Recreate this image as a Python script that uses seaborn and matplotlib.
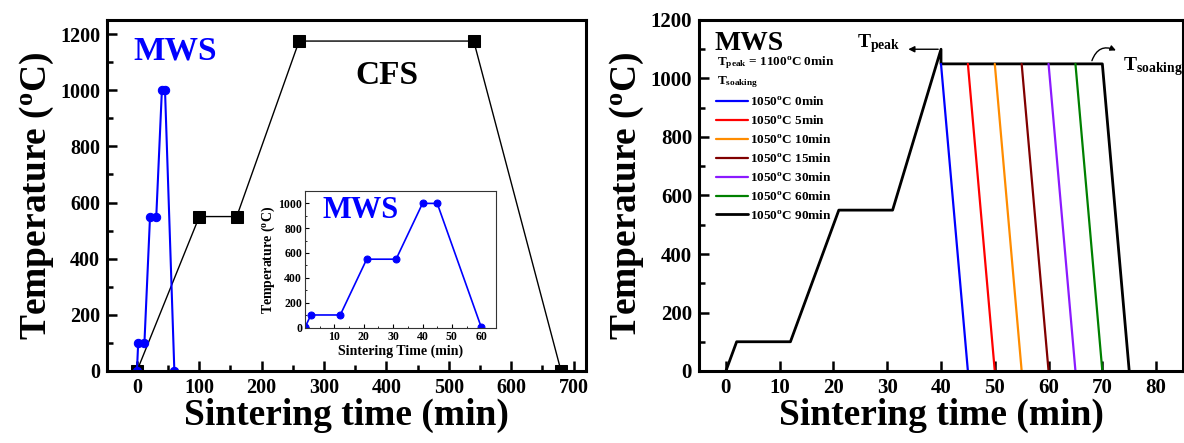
import numpy as np
import pandas as pd
import matplotlib
matplotlib.use("Agg")
import matplotlib.pyplot as plt
from matplotlib.ticker import MultipleLocator, FixedLocator
import seaborn as sns

# ---------------- data ----------------
mws_time = [0, 2, 12, 21, 31, 40, 45, 60]
mws_temp = [0, 100, 100, 550, 550, 1000, 1000, 0]
cfs_time = [0, 100, 160, 260, 540, 680]
cfs_temp = [0, 550, 550, 1175, 1175, 0]

base_time = [0, 2, 12, 21, 31, 40, 40]
base_temp = [0, 100, 100, 550, 550, 1100, 1050]
soak_temp = 1050
soak_start = [40, 45, 50, 55, 60, 65, 70]
soak_end = [45, 50, 55, 60, 65, 70, 75]
soak_labels = ["1050$^{o}$C 0min", "1050$^{o}$C 5min", "1050$^{o}$C 10min",
               "1050$^{o}$C 15min", "1050$^{o}$C 30min", "1050$^{o}$C 60min",
               "1050$^{o}$C 90min"]
soak_colors = ["#0000FF", "#FF0000", "#FF8C00", "#800000", "#8B1AFF", "#008000", "#000000"]

left_xticks = [0, 100, 200, 300, 400, 500, 600, 700]
yticks = [0, 200, 400, 600, 800, 1000, 1200]
right_xticks = [0, 10, 20, 30, 40, 50, 60, 70, 80]
inset_xticks = [10, 20, 30, 40, 50, 60]
inset_yticks = [0, 200, 400, 600, 800, 1000]

# ---------------- style ----------------
sns.set_style("white")
plt.rcParams.update({
    "font.family": ["Liberation Serif", "DejaVu Serif"],
    "font.weight": "bold",
    "axes.labelweight": "bold",
    "mathtext.fontset": "custom",
    "mathtext.rm": "Liberation Serif:bold",
    "mathtext.it": "Liberation Serif:bold",
    "mathtext.bf": "Liberation Serif:bold",
    "mathtext.default": "rm",
    "axes.edgecolor": "black",
    "axes.linewidth": 2.2,
    "text.color": "black",
    "axes.labelcolor": "black",
    "xtick.direction": "in",
    "ytick.direction": "in",
    "xtick.color": "black",
    "ytick.color": "black",
    "xtick.labelcolor": "black",
    "ytick.labelcolor": "black",
})

fig = plt.figure(figsize=(11.84, 4.43), dpi=100)
W, H = 1184, 443

def frame(l, r, t, b):
    return [l / W, (H - b) / H, (r - l) / W, (b - t) / H]

axL = fig.add_axes(frame(107, 586, 20, 371))
axR = fig.add_axes(frame(699, 1183, 20, 371))
axI = fig.add_axes(frame(305, 496, 191, 328))

def style_ticks(ax, size=14.5, major=7, minor=4, width=1.8):
    ax.tick_params(which="major", length=major, width=width, labelsize=size,
                   bottom=True, left=True, top=False, right=False, pad=5)
    ax.tick_params(which="minor", length=minor, width=width,
                   bottom=True, left=True, top=False, right=False)
    for lab in ax.get_xticklabels() + ax.get_yticklabels():
        lab.set_fontweight("bold")

# ---------------- left panel ----------------
sns.lineplot(x=cfs_time, y=cfs_temp, ax=axL, color="black", lw=1.0, marker="s",
             markersize=9, markeredgecolor="black", sort=False, estimator=None)
sns.lineplot(x=mws_time, y=mws_temp, ax=axL, color="#0000FF", lw=1.5, marker="o",
             markersize=6, markeredgecolor="#0000FF", sort=False, estimator=None)
axL.set_xlim(-48, 720)
axL.set_ylim(0, 1250)
axL.xaxis.set_major_locator(FixedLocator(left_xticks))
axL.xaxis.set_minor_locator(MultipleLocator(50))
axL.yaxis.set_major_locator(FixedLocator(yticks))
axL.yaxis.set_minor_locator(MultipleLocator(100))
axL.set_xlabel("Sintering time (min)", fontsize=27, labelpad=0)
axL.set_ylabel("Temperature ($^{o}$C)", fontsize=27, labelpad=3)
style_ticks(axL)
axL.text(-6, 1108, "MWS", color="#0000FF", fontsize=24, fontweight="bold")
axL.text(351, 1023, "CFS", color="black", fontsize=24, fontweight="bold")

# ---------------- inset ----------------
sns.lineplot(x=mws_time, y=mws_temp, ax=axI, color="#0000FF", lw=1.2, marker="o",
             markersize=5, markeredgecolor="#0000FF", sort=False, estimator=None)
axI.set_xlim(0, 65)
axI.set_ylim(-5, 1100)
axI.xaxis.set_major_locator(FixedLocator(inset_xticks))
axI.xaxis.set_minor_locator(MultipleLocator(5))
axI.yaxis.set_major_locator(FixedLocator(inset_yticks))
axI.yaxis.set_minor_locator(MultipleLocator(100))
for sp in axI.spines.values():
    sp.set_linewidth(0.8)
    sp.set_color("#333333")
axI.tick_params(which="major", length=3, width=0.8, labelsize=8.5, pad=2,
                bottom=True, left=True, top=False, right=False)
axI.tick_params(which="minor", length=1.5, width=0.6,
                bottom=True, left=True, top=False, right=False)
axI.set_xlabel("Sintering Time (min)", fontsize=10, labelpad=1)
axI.set_ylabel("Temperature ($^{o}$C)", fontsize=10, labelpad=1)
axI.text(6, 880, "MWS", color="#0000FF", fontsize=22, fontweight="bold")

# ---------------- right panel ----------------
rows = []
for lab, s, e in zip(soak_labels, soak_start, soak_end):
    if lab.endswith("90min"):
        ts = base_time + [s, e]
        te = base_temp + [soak_temp, 0]
    else:
        ts = [s, e]
        te = [soak_temp, 0]
    for k, (t, v) in enumerate(zip(ts, te)):
        rows.append({"time": t, "temp": v, "series": lab, "order": k})
df = pd.DataFrame(rows)
order = [soak_labels[-1]] + soak_labels[:-1]
palette = dict(zip(soak_labels, soak_colors))
for lab in order:
    sub = df[df.series == lab].sort_values("order")
    sns.lineplot(data=sub, x="time", y="temp", ax=axR, color=palette[lab],
                 lw=2.0 if lab.endswith("90min") else 1.6, sort=False,
                 estimator=None, label=lab)
axR.set_xlim(-5, 85)
axR.set_ylim(0, 1200)
axR.xaxis.set_major_locator(FixedLocator(right_xticks))
axR.yaxis.set_major_locator(FixedLocator(yticks))
axR.yaxis.set_minor_locator(MultipleLocator(100))
axR.set_xlabel("Sintering time (min)", fontsize=27, labelpad=0)
axR.set_ylabel("Temperature ($^{o}$C)", fontsize=27, labelpad=3)
style_ticks(axR, size=15)

handles, labels = axR.get_legend_handles_labels()
hmap = dict(zip(labels, handles))
leg = axR.legend([hmap[l] for l in soak_labels], soak_labels, loc="upper left",
                 bbox_to_anchor=(0.035, 0.785), frameon=False, fontsize=9.5,
                 handlelength=2.4, handletextpad=0.15, labelspacing=0.45,
                 borderpad=0, borderaxespad=0)
for t in leg.get_texts():
    t.set_fontweight("bold")
    t.set_color("black")

axR.text(-2.2, 1097, "MWS", fontsize=20, fontweight="bold")
axR.text(-1.7, 1045, "T$_{peak}$ = 1100$^{o}$C 0min", fontsize=9.5, fontweight="bold")
axR.text(-1.7, 980, "T$_{soaking}$", fontsize=9.5, fontweight="bold")

axR.text(24.4, 1108, "T$_{peak}$", fontsize=14, fontweight="bold")
axR.annotate("", xy=(33.4, 1100), xytext=(40, 1100),
             arrowprops=dict(arrowstyle="-|>", color="black", lw=1.0, mutation_scale=9))
axR.text(73.9, 1029, "T$_{soaking}$", fontsize=14, fontweight="bold")
axR.annotate("", xy=(73, 1092), xytext=(67.9, 1052),
             arrowprops=dict(arrowstyle="-|>", color="black", lw=1.0, mutation_scale=8,
                             connectionstyle="arc3,rad=-0.6"))

fig.savefig("out.png", dpi=100)
